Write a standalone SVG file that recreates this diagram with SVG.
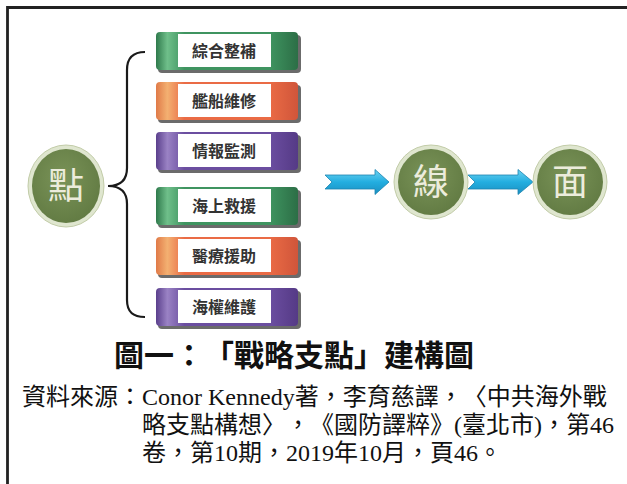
<svg xmlns="http://www.w3.org/2000/svg" width="627" height="484" viewBox="0 0 627 484">
<defs>
<linearGradient id="gGreen" x1="0" y1="0" x2="1" y2="0">
<stop offset="0" stop-color="#2f7a4c"/><stop offset="0.08" stop-color="#6fbf8a"/><stop offset="0.2" stop-color="#3f9460"/><stop offset="0.8" stop-color="#3f9460"/><stop offset="1" stop-color="#2c6e46"/>
</linearGradient>
<linearGradient id="gOrange" x1="0" y1="0" x2="1" y2="0">
<stop offset="0" stop-color="#e07a48"/><stop offset="0.08" stop-color="#f3b071"/><stop offset="0.2" stop-color="#ea6b45"/><stop offset="0.8" stop-color="#ea6b45"/><stop offset="1" stop-color="#d0553a"/>
</linearGradient>
<linearGradient id="gPurple" x1="0" y1="0" x2="1" y2="0">
<stop offset="0" stop-color="#5a3f8c"/><stop offset="0.08" stop-color="#9a82c4"/><stop offset="0.2" stop-color="#6b4ea0"/><stop offset="0.8" stop-color="#6b4ea0"/><stop offset="1" stop-color="#553a86"/>
</linearGradient>
<linearGradient id="gArrow" x1="0" y1="0" x2="0" y2="1">
<stop offset="0" stop-color="#6fd3f2"/><stop offset="0.5" stop-color="#23aee0"/><stop offset="1" stop-color="#1a8fc0"/>
</linearGradient>
<radialGradient id="gCircle" cx="0.45" cy="0.4" r="0.6">
<stop offset="0" stop-color="#7a9358"/><stop offset="1" stop-color="#637c44"/>
</radialGradient>
<style>
text{text-spacing-trim:space-all}
.shadow{fill:#3a3a3a;opacity:0.75}
.label{fill:#ffffff}
.ltxt{font-family:"Liberation Serif","Noto Sans CJK TC",serif;font-size:16px;fill:#333;text-anchor:middle;font-weight:bold}
.ring{fill:#dfe6cf;stroke:#c2cca8;stroke-width:1}
.core{fill:url(#gCircle)}
.ctxt{font-family:"Noto Sans CJK TC",sans-serif;font-size:36px;fill:#ececdc;text-anchor:middle}
.arrow{fill:url(#gArrow);stroke:#1c84b0;stroke-width:0.8}
.brace{fill:none;stroke:#1a1a1a;stroke-width:2.2}
.title{font-family:"Liberation Serif","Noto Sans CJK TC",serif;font-size:30px;font-weight:bold;fill:#111;text-anchor:middle}
.src{font-family:"Liberation Serif","Noto Sans CJK TC",serif;font-size:24px;fill:#111}
</style>
</defs>
<rect x="0" y="0" width="627" height="484" fill="#ffffff"/>
<path d="M7.5,484 V7.5 H627" fill="none" stroke="#222" stroke-width="2.8"/>

<g id="connectors">
<path class="brace" d="M145,52 C133,52 127,58 127,70 V168 C127,180 120,186 108,186 C120,186 127,192 127,204 V300 C127,312 133,317 145,317"/>
<path class="arrow" d="M325,175 H375 V169.5 L389,182 L375,194.5 V189 H325 L332,182 Z"/>
<path class="arrow" d="M468,175 H518 V169.5 L533,182 L518,194.5 V189 H468 L475,182 Z"/>
</g>

<g id="node-dian">
<ellipse cx="66" cy="186" rx="38" ry="41" class="ring"/>
<ellipse cx="66" cy="186" rx="34" ry="37" class="core"/>
<text x="66" y="199" class="ctxt">點</text>
</g>
<g id="node-xian">
<circle cx="431" cy="182" r="37" class="ring"/>
<circle cx="431" cy="182" r="33" class="core"/>
<text x="431" y="195" class="ctxt">線</text>
</g>
<g id="node-mian">
<circle cx="570" cy="182" r="37" class="ring"/>
<circle cx="570" cy="182" r="33" class="core"/>
<text x="570" y="195" class="ctxt">面</text>
</g>

<g id="box1">
<rect x="158" y="35" width="143" height="38" rx="4" class="shadow"/>
<rect x="156" y="32" width="142" height="38" rx="4" fill="url(#gGreen)"/>
<rect x="178" y="34" width="93" height="33" class="label"/>
<text x="224" y="57" class="ltxt">綜合整補</text>
</g>
<g id="box2">
<rect x="158" y="85" width="143" height="38" rx="4" class="shadow"/>
<rect x="156" y="82" width="142" height="38" rx="4" fill="url(#gOrange)"/>
<rect x="178" y="84" width="93" height="33" class="label"/>
<text x="224" y="107" class="ltxt">艦船維修</text>
</g>
<g id="box3">
<rect x="158" y="135" width="143" height="38" rx="4" class="shadow"/>
<rect x="156" y="132" width="142" height="38" rx="4" fill="url(#gPurple)"/>
<rect x="178" y="134" width="93" height="33" class="label"/>
<text x="224" y="157" class="ltxt">情報監測</text>
</g>
<g id="box4">
<rect x="158" y="190" width="143" height="38" rx="4" class="shadow"/>
<rect x="156" y="187" width="142" height="38" rx="4" fill="url(#gGreen)"/>
<rect x="178" y="189" width="93" height="33" class="label"/>
<text x="224" y="212" class="ltxt">海上救援</text>
</g>
<g id="box5">
<rect x="158" y="240" width="143" height="38" rx="4" class="shadow"/>
<rect x="156" y="237" width="142" height="38" rx="4" fill="url(#gOrange)"/>
<rect x="178" y="239" width="93" height="33" class="label"/>
<text x="224" y="262" class="ltxt">醫療援助</text>
</g>
<g id="box6">
<rect x="158" y="291" width="143" height="38" rx="4" class="shadow"/>
<rect x="156" y="288" width="142" height="38" rx="4" fill="url(#gPurple)"/>
<rect x="178" y="290" width="93" height="33" class="label"/>
<text x="224" y="313" class="ltxt">海權維護</text>
</g>

<text x="294" y="366" class="title">圖一：「戰略支點」建構圖</text>
<text x="22" y="405" class="src">資料來源：Conor Kennedy著，李育慈譯，〈中共海外戰</text>
<text x="142" y="433" class="src">略支點構想〉，《國防譯粹》(臺北市)，第46</text>
<text x="142" y="461" class="src">卷，第10期，2019年10月，頁46。</text>
</svg>
